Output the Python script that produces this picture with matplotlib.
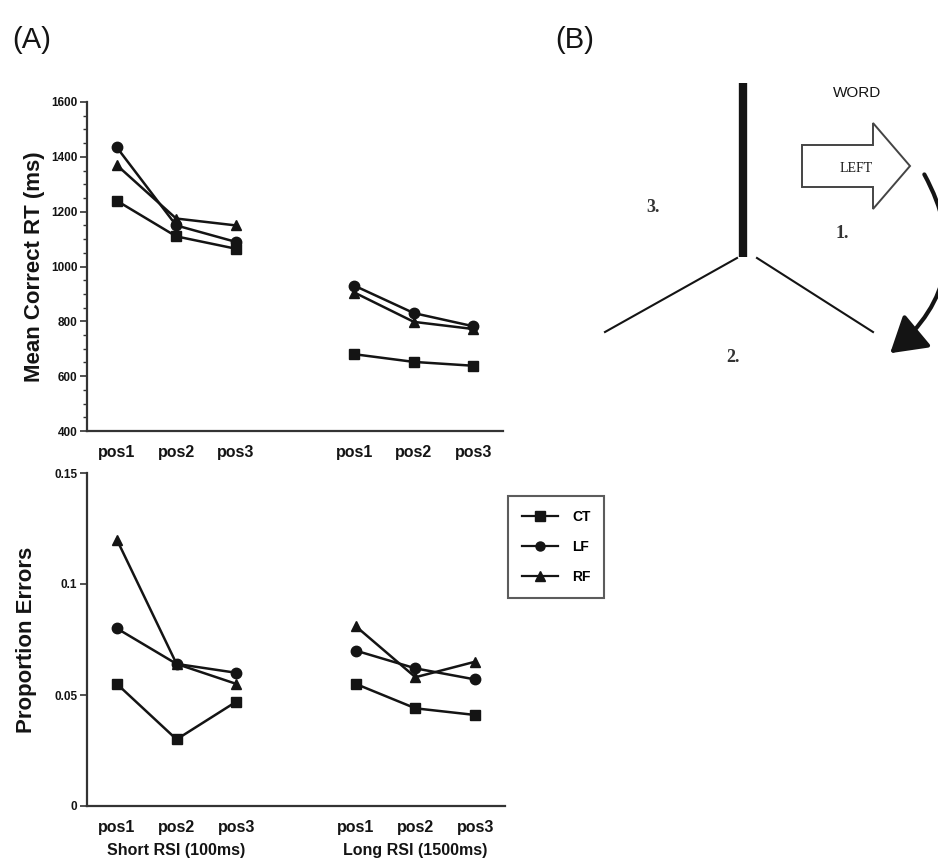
import matplotlib
matplotlib.use("Agg")
import matplotlib.pyplot as plt
from matplotlib.patches import FancyArrow, FancyArrowPatch
from matplotlib.ticker import MultipleLocator
from matplotlib.lines import Line2D

plt.rcParams["font.family"] = ["Liberation Sans", "DejaVu Sans"]

# Positions within each RSI block; long RSI block sits two slots to the right
positions = ["pos1", "pos2", "pos3"]
x_short = [1, 2, 3]
x_long = [5, 6, 7]
block_labels = ["Short RSI (100ms)", "Long RSI (1500ms)"]
conditions = ["CT", "LF", "RF"]
markers = {"CT": "s", "LF": "o", "RF": "^"}

# Mean correct RT (ms)
rt_short = {"CT": [1240, 1110, 1065], "LF": [1435, 1150, 1090], "RF": [1370, 1175, 1150]}
rt_long = {"CT": [680, 652, 638], "LF": [930, 830, 782], "RF": [905, 798, 772]}

# Proportion errors
err_short = {"CT": [0.055, 0.030, 0.047], "LF": [0.080, 0.064, 0.060], "RF": [0.120, 0.064, 0.055]}
err_long = {"CT": [0.055, 0.044, 0.041], "LF": [0.070, 0.062, 0.057], "RF": [0.081, 0.058, 0.065]}

W, H = 938, 865
INK = "#141414"

fig = plt.figure(figsize=(W / 100, H / 100), dpi=100)

# pixel-space overlay for panel labels and the schematic in (B)
ov = fig.add_axes([0, 0, 1, 1])
ov.set_xlim(0, W)
ov.set_ylim(H, 0)
ov.set_axis_off()


def px_axes(x0, y0, x1, y1):
    return fig.add_axes([x0 / W, 1 - y1 / H, (x1 - x0) / W, (y1 - y0) / H])


def style(ax):
    for side in ("top", "right"):
        ax.spines[side].set_visible(False)
    for side in ("left", "bottom"):
        ax.spines[side].set_linewidth(1.6)
        ax.spines[side].set_color("#333")
    ax.set_xlim(0.5, 7.5)
    ax.set_xticks(x_short + x_long)
    ax.set_xticklabels(positions * 2, fontsize=11.5, fontweight="bold", color=INK)
    ax.tick_params(axis="x", length=0, pad=10)
    ax.tick_params(axis="y", labelsize=8.5, width=1.2, length=5, colors="#333",
                   labelcolor=INK, pad=2)
    for lbl in ax.get_yticklabels():
        lbl.set_fontweight("bold")


def draw(ax, short, long):
    for c in conditions:
        for xs, ys in ((x_short, short[c]), (x_long, long[c])):
            ax.plot(xs, ys, color=INK, lw=1.8, marker=markers[c], ms=7.5,
                    mfc=INK, mec=INK)


# (A) top: reaction times
ax1 = px_axes(87, 102, 503, 431)
draw(ax1, rt_short, rt_long)
ax1.set_ylim(400, 1600)
ax1.set_yticks([400, 600, 800, 1000, 1200, 1400, 1600])
ax1.yaxis.set_minor_locator(MultipleLocator(50))
ax1.tick_params(axis="y", which="minor", length=3, width=1.0, colors="#333")
style(ax1)
ax1.set_ylabel("Mean Correct RT (ms)", fontsize=16, fontweight="bold",
               color=INK, labelpad=4)

# (A) bottom: error proportions
ax2 = px_axes(87, 473, 505, 806)
draw(ax2, err_short, err_long)
ax2.set_ylim(0, 0.15)
ax2.set_yticks([0, 0.05, 0.1, 0.15])
ax2.set_yticklabels(["0", "0.05", "0.1", "0.15"])
style(ax2)
ax2.set_ylabel("Proportion Errors", fontsize=16, fontweight="bold",
               color=INK, labelpad=12)
for xs, name in zip((x_short, x_long), block_labels):
    ax2.text(xs[1], -0.135, name, ha="center", va="center",
             transform=ax2.get_xaxis_transform(), fontsize=11.5,
             fontweight="bold", color=INK)

handles = [Line2D([], [], color=INK, lw=1.6, marker=markers[c], ms=6.5,
                  mfc=INK, mec=INK) for c in conditions]
leg = fig.legend(handles, conditions, loc="upper left",
                 bbox_to_anchor=(508 / W, 1 - 496 / H), frameon=True,
                 fancybox=False, handlelength=2.6, borderpad=1.0,
                 labelspacing=1.15, handletextpad=1.0, borderaxespad=0,
                 prop={"size": 10, "weight": "bold"})
leg.get_frame().set_edgecolor("#333")
leg.get_frame().set_linewidth(1.5)

# panel letters
ov.text(12, 40, "(A)", fontsize=21, va="center", ha="left", color=INK)
ov.text(555, 40, "(B)", fontsize=21, va="center", ha="left", color=INK)

# (B) schematic: three-armed figure with word cue and rotation arrow
ov.plot([743, 743], [83, 257], color=INK, lw=6, solid_capstyle="butt")
ov.plot([737, 605], [258, 332], color=INK, lw=1.5)
ov.plot([757, 873], [258, 332], color=INK, lw=1.5)
ov.add_patch(FancyArrow(802, 166, 108, 0, width=42, head_width=86,
                        head_length=37, length_includes_head=True,
                        facecolor="white", edgecolor="#444", lw=1.4))
ov.text(857, 93, "WORD", ha="center", va="center", fontsize=11,
        color=INK, family=["Liberation Sans"])
ov.text(856, 168, "LEFT", ha="center", va="center", fontsize=10,
        color=INK, family=["Liberation Serif"])
ov.text(842, 233, "1.", ha="center", va="center", fontsize=13,
        fontweight="bold", color="#333", family=["Liberation Serif"])
ov.text(653, 208, "3.", ha="center", va="center", fontsize=13,
        fontweight="bold", color="#333", family=["Liberation Serif"])
ov.text(733, 358, "2.", ha="center", va="center", fontsize=13,
        fontweight="bold", color="#333", family=["Liberation Serif"])
ov.add_patch(FancyArrowPatch((923, 172), (888, 355),
                             connectionstyle="arc3,rad=-0.42",
                             arrowstyle="-|>,head_length=0.9,head_width=0.55",
                             mutation_scale=24, lw=3, color=INK))

fig.savefig("out.png", dpi=100, facecolor="white")
